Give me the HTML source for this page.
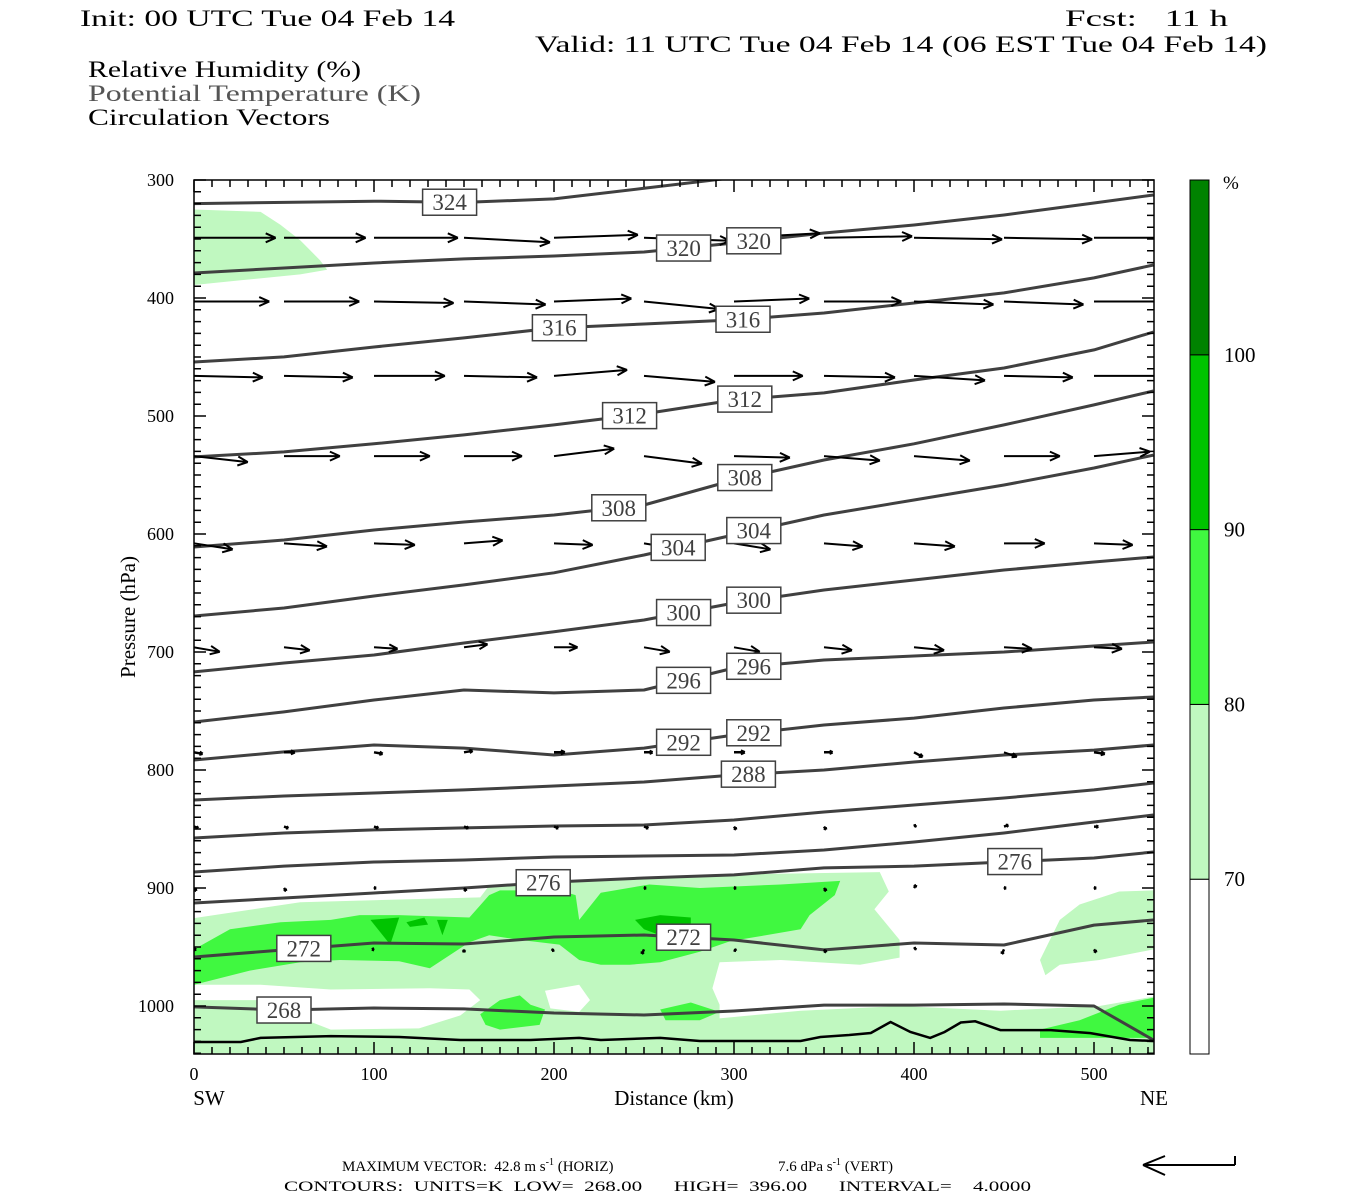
<!DOCTYPE html>
<html><head><meta charset="utf-8"><title>Cross section</title>
<style>
html,body{margin:0;padding:0;background:#fff;}
svg{display:block;}
text{font-family:"Liberation Serif",serif;}
</style></head>
<body>
<svg id="chart" width="1350" height="1200" viewBox="0 0 1350 1200" xmlns="http://www.w3.org/2000/svg">
<defs><clipPath id="plotclip"><rect x="194" y="180" width="960" height="874"/></clipPath></defs>
<g font-size="23" fill="#000">
<text x="80" y="26" textLength="375" lengthAdjust="spacingAndGlyphs">Init: 00 UTC Tue 04 Feb 14</text>
<text x="1065" y="26" textLength="163" lengthAdjust="spacingAndGlyphs" xml:space="preserve">Fcst:   11 h</text>
<text x="535" y="52" textLength="732" lengthAdjust="spacingAndGlyphs">Valid: 11 UTC Tue 04 Feb 14 (06 EST Tue 04 Feb 14)</text>
<text x="88" y="77" textLength="273" lengthAdjust="spacingAndGlyphs">Relative Humidity (%)</text>
<text x="88" y="101" fill="#555" textLength="333" lengthAdjust="spacingAndGlyphs">Potential Temperature (K)</text>
<text x="88" y="125" textLength="242" lengthAdjust="spacingAndGlyphs">Circulation Vectors</text>
</g>
<g id="rh" clip-path="url(#plotclip)"></g>
<g id="theta" clip-path="url(#plotclip)"></g>
<g id="vec" clip-path="url(#plotclip)"></g>
<g id="labels"></g>
<g id="axes"></g>
<g id="cbar"></g>
<g font-size="15" fill="#000">
<text x="342" y="1171" xml:space="preserve">MAXIMUM VECTOR:  42.8 m s<tspan font-size="10" dy="-6">-1</tspan><tspan dy="6"> (HORIZ)</tspan><tspan x="778">7.6 dPa s</tspan><tspan font-size="10" dy="-6">-1</tspan><tspan dy="6"> (VERT)</tspan></text>
<text x="284" y="1191" textLength="747" lengthAdjust="spacingAndGlyphs" xml:space="preserve">CONTOURS:  UNITS=K  LOW=  268.00      HIGH=  396.00      INTERVAL=    4.0000</text>
<g stroke="#000" stroke-width="2" fill="none">
<path d="M1235 1165 L1143 1165 M1143 1165 L1165 1156 M1143 1165 L1165 1175 M1235 1165 L1235 1156"/>
</g>
</g>
</svg>
<script>
// ---- data ----
const distGrid = [0,50,100,150,200,250,300,350,400,450,500,533];
const thetaLevels = [324,320,316,312,308,304,300,296,292,288,284,280,276,272,268];
const th324 = [320,319,318,319,316,307,298,290,284,280,276,274];
const th320 = [378.8,374.6,370.3,366.9,364.4,361.0,353.4,344.9,338.1,329.7,319.5,312.7];
const th316 = [454.2,449.9,441.5,433.8,425.4,422.0,418.6,412.7,404.2,395.7,383.0,372.0];
const th312 = [534.7,530.4,523.6,516.0,507.5,498.2,486.4,480.4,469.5,459.3,444.0,428.8];
const th308 = [611.0,605.1,596.6,589.8,583.9,575.4,554.2,537.3,523.6,507.5,490.6,478.8];
const th304 = [669.5,662.7,652.5,643.1,632.9,617.8,600.8,583.9,571.2,558.5,544.1,533.1];
const th300 = [716.9,709.3,702.5,692.4,682.9,672.9,658.5,647.5,639.0,630.5,623.7,619.5];
const th296 = [759.3,750.8,740.7,732.2,734.7,732.2,713.6,706.8,703.4,700.0,694.9,691.5];
const th292 = [791.5,784.7,778.8,781.4,787.3,781.4,770.3,761.9,756.0,747.5,740.7,738.1];
const th288 = [825.4,822.0,819.5,816.9,813.6,810.2,804.2,800.0,793.2,787.3,783.1,778.8];
const th284 = [857.6,853.4,850.8,849.1,847.5,846.6,842.4,835.6,829.7,823.7,816.9,811.0];
const th280 = [886.4,881.4,878.0,876.3,873.7,872.9,872.0,867.8,861.0,853.4,844.1,838.1];
const th276 = [912.7,908.5,904.2,900.0,894.9,891.5,888.9,883.0,881.4,878.0,874.6,869.5];
const th272 = [958.5,952.5,946.6,947.5,941.5,939.8,944.1,952.5,946.6,948.3,931.4,927.1];
const th268 = [1000.8,1003.4,1001.7,1002.5,1005.9,1007.6,1004.2,999.2,999.2,998.3,1000.0,1028.8];
const thetaSeries = [th324,th320,th316,th312,th308,th304,th300,th296,th292,th288,th284,th280,th276,th272,th268];
const labelDists = [[142],[272,311],[203,305],[242,306],[236,306],[269,311],[272,311],[272,311],[272,311],[308],[],[],[194,456],[61,272],[50]];
const groundLine = [[0,1030.5],[26,1030.5],[37,1027],[76,1025.5],[114,1026.3],[148,1028.8],[187,1028.8],[214,1027],[226,1028.8],[259,1027],[281,1029.7],[337,1029.7],[348,1026.3],[364,1024.6],[376,1022.9],[387,1013.6],[398,1022],[409,1027],[417,1022],[426,1014],[434,1013],[448,1020.4],[476,1020.4],[498,1023],[520,1028.8],[533,1029.7]];
const rhCats = [1,1,1,1,0,0,2,2,2,2,3,3,3,3];
const rhL4 = [[0,325],[20,326],[37,327],[48,338],[59,351],[70,368],[74,376],[59,380],[26,385],[0,389]];
const rhL1 = [[0,925.5],[59,912],[159,908],[164,898],[226,893],[281,889],[381,886.5],[386,903],[378,918],[392,944],[392,959],[370,965],[326,961],[292,963],[288,985],[292,999],[292,1040],[0,1040]];
const rhL2 = [[281,1012],[337,1004],[392,1000],[448,1004],[503,1000],[533,992],[533,1040],[281,1040]];
const rhL3 = [[533,902],[514,903],[492,914],[481,927],[470,961],[473,974],[481,965],[503,961],[533,952]];
const rhW1 = [[0,982],[37,982],[76,986],[131,985],[153,986],[159,995],[148,1008],[125,1019],[76,1020],[59,1010],[37,995],[0,995]];
const rhW2 = [[195,987],[214,982],[220,995],[214,1005],[198,1002]];
const rhG1 = [[0,952],[20,935],[48,929],[76,927],[92,923],[114,923],[153,925],[164,906],[170,902],[203,902],[212,906],[214,927],[226,904],[253,897],[281,900],[326,897],[359,894],[356,906],[342,923],[337,935],[314,941],[298,945],[281,954],[259,963],[242,965],[226,965],[214,961],[203,948],[181,944],[164,940],[153,946],[131,968],[114,962],[81,961],[59,963],[31,970],[0,982]];
const rhG2 = [[159,1007],[170,995],[181,991],[187,999],[195,1003],[192,1016],[170,1020],[162,1016]];
const rhG3 = [[259,1003],[276,997],[292,1005],[281,1012],[262,1012]];
const rhG4 = [[470,1020],[492,1012],[514,999],[533,993],[533,1027],[470,1027]];
const rhD1 = [[98,927],[114,925],[109,948]];
const rhD2 = [[118,929],[128,925],[130,931],[120,933]];
const rhD3 = [[135,927],[141,927],[138,940]];
const rhD4 = [[245,927],[259,923],[276,925],[276,940],[259,940],[250,935]];
const rhRegions = [rhL4,rhL1,rhL2,rhL3,rhW1,rhW2,rhG1,rhG2,rhG3,rhG4,rhD1,rhD2,rhD3,rhD4];
const vecDists = [0,50,100,150,200,250,300,350,400,450,500];
const vecLevels = [349,403,466,534,608,696,785,848,900,952];
const u349=[38,38,39,40,39,40,40,41,41,41,41], w349=[0,0,0,3,-2,2,-3,-1,1,1,0];
const u403=[35,35,37,38,36,35,35,36,37,37,37], w403=[0,0,1,2,-2,5,-2,0,2,2,0];
const u466=[32,32,33,34,34,33,32,33,33,32,33], w466=[1,1,0,1,-4,4,0,1,3,1,0];
const u534=[25,26,26,27,28,27,26,26,26,26,26], w534=[4,0,0,0,-5,5,1,3,3,0,-3];
const u608=[18,20,19,18,18,17,17,18,19,19,18], w608=[4,2,1,-2,1,4,4,2,2,0,1];
const u696=[12,12,11,11,11,12,12,13,14,13,13], w696=[3,2,1,-2,0,3,3,2,2,1,1];
const u785=[4,5,4,4,5,4,5,4,4,6,5], w785=[1,0,1,-1,0,0,0,0,3,3,1];
const u848=[2,2,2,2,2,2,1,1,1,2,2], w848=[1,1,1,1,1,1,2,2,-1,-1,0];
const u900=[1,1,1,1,1,1,1,1,1,1,1], w900=[2,2,0,2,2,0,0,2,-2,0,0];
const u952=[1,1,-1,0,-1,-1,1,1,1,-1,1], w952=[0,0,0,2,1,3,1,2,-1,3,2];
const uRows=[u349,u403,u466,u534,u608,u696,u785,u848,u900,u952];
const wRows=[w349,w403,w466,w534,w608,w696,w785,w848,w900,w952];
const xTicks=[0,100,200,300,400,500];
const yTicks=[300,400,500,600,700,800,900,1000];
const cbarBounds=[60,70,80,90,100,110];
const cbarLabels=["70","80","90","100"];
const rhColors=["#ffffff","#c0f8c0","#40f840","#00c400","#008200"];

const NS="http://www.w3.org/2000/svg";
const xs=d=>194+d*1.8;
const ys=p=>180+(p-300)*1.18;
function mk(tag,attrs,parent){const e=document.createElementNS(NS,tag);for(const k in attrs)e.setAttribute(k,attrs[k]);parent.appendChild(e);return e;}

const rhG=document.getElementById('rh');
rhRegions.forEach((reg,i)=>{
  const pts=reg.map(v=>xs(v[0]).toFixed(1)+','+ys(v[1]).toFixed(1)).join(' ');
  const el=mk('polygon',{points:pts,fill:rhColors[rhCats[i]]},rhG);
  
  
});
const thG=document.getElementById('theta');
thetaSeries.forEach((s,i)=>{
  const pts=s.map((p,j)=>xs(distGrid[j]).toFixed(1)+','+ys(p).toFixed(1)).join(' ');
  const el=mk('polyline',{points:pts,fill:'none',stroke:'#404040','stroke-width':3,'stroke-linejoin':'round'},thG);
  
  
});
const gl=mk('polyline',{points:groundLine.map(v=>xs(v[0]).toFixed(1)+','+ys(v[1]).toFixed(1)).join(' '),fill:'none',stroke:'#000','stroke-width':2.5},thG);


function interp(s,d){for(let j=0;j<distGrid.length-1;j++){if(d<=distGrid[j+1]){const t=(d-distGrid[j])/(distGrid[j+1]-distGrid[j]);return s[j]+t*(s[j+1]-s[j]);}}return s[s.length-1];}
const lbG=document.getElementById('labels');
labelDists.forEach((ds,i)=>{ds.forEach(d=>{
  const cx=xs(d),cy=ys(interp(thetaSeries[i],d));
  const g=mk('g',{},lbG);
  
  
  mk('rect',{x:cx-27,y:cy-13,width:54,height:26,fill:'#fff',stroke:'#404040','stroke-width':1.5},g);
  const t=mk('text',{x:cx,y:cy+8,'text-anchor':'middle','font-size':23,fill:'#404040'},g);
  t.textContent=thetaLevels[i];
});});
const vG=document.getElementById('vec');
vecLevels.forEach((p,r)=>{vecDists.forEach((d,c)=>{
  const x0=xs(d),y0=ys(p);
  const dx=uRows[r][c]*2.15,dy=wRows[r][c]*1.5;
  const x1=x0+dx,y1=y0+dy;
  const L=Math.hypot(dx,dy);
  if(L<0.5)return;
  const ang=Math.atan2(dy,dx),h=Math.min(11,Math.max(2.5,L*0.4)),a=0.42;
  const d1=`M${x0.toFixed(1)} ${y0.toFixed(1)} L${x1.toFixed(1)} ${y1.toFixed(1)} M${x1.toFixed(1)} ${y1.toFixed(1)} L${(x1-h*Math.cos(ang-a)).toFixed(1)} ${(y1-h*Math.sin(ang-a)).toFixed(1)} M${x1.toFixed(1)} ${y1.toFixed(1)} L${(x1-h*Math.cos(ang+a)).toFixed(1)} ${(y1-h*Math.sin(ang+a)).toFixed(1)}`;
  const el=mk('path',{d:d1,stroke:'#000','stroke-width':L<12?2.5:2,fill:'none'},vG);
  
  
});});
const ax=document.getElementById('axes');
const frame=mk('rect',{x:194,y:180,width:960,height:874,fill:'none',stroke:'#000','stroke-width':1.5},ax);


let tk='';
for(let d=0;d<=533;d+=10){const x=xs(d),len=(d%100===0)?12:7;tk+=`M${x} 1054 L${x} ${1054-len} M${x} 180 L${x} ${180+len} `;}
for(let p=300;p<=1040;p+=10){const y=ys(p),len=(p%100===0)?12:7;tk+=`M194 ${y} L${194+len} ${y} M1154 ${y} L${1154-len} ${y} `;}
const tp=mk('path',{d:tk,stroke:'#000','stroke-width':1.5},ax);


xTicks.forEach(v=>{const t=mk('text',{x:xs(v),y:1080,'text-anchor':'middle','font-size':18},ax);t.textContent=v;
  });
yTicks.forEach(v=>{const t=mk('text',{x:174,y:ys(v)+6,'text-anchor':'end','font-size':18},ax);t.textContent=v;
  });
const xt=mk('text',{x:674,y:1105,'text-anchor':'middle','font-size':21},ax);xt.textContent='Distance (km)';

const sw=mk('text',{x:209,y:1105,'text-anchor':'middle','font-size':21},ax);sw.textContent='SW';

const ne=mk('text',{x:1154,y:1105,'text-anchor':'middle','font-size':21},ax);ne.textContent='NE';

const yt=mk('text',{x:135,y:617,'text-anchor':'middle','font-size':21,transform:'rotate(-90 135 617)'},ax);yt.textContent='Pressure (hPa)';

const cb=document.getElementById('cbar');
const cby=v=>1054-(v-60)*(874/50);
for(let i=0;i<5;i++){
  const r=mk('rect',{x:1190,y:cby(cbarBounds[i+1]),width:19,height:cby(cbarBounds[i])-cby(cbarBounds[i+1]),fill:rhColors[i],stroke:'#000','stroke-width':1},cb);
  
  
}
cbarLabels.forEach((l,i)=>{const t=mk('text',{x:1224,y:cby(70+10*i)+7,'font-size':21},cb);t.textContent=l;
  });
const pc=mk('text',{x:1223,y:189,'font-size':19},cb);pc.textContent='%';

</script>
</body></html>
